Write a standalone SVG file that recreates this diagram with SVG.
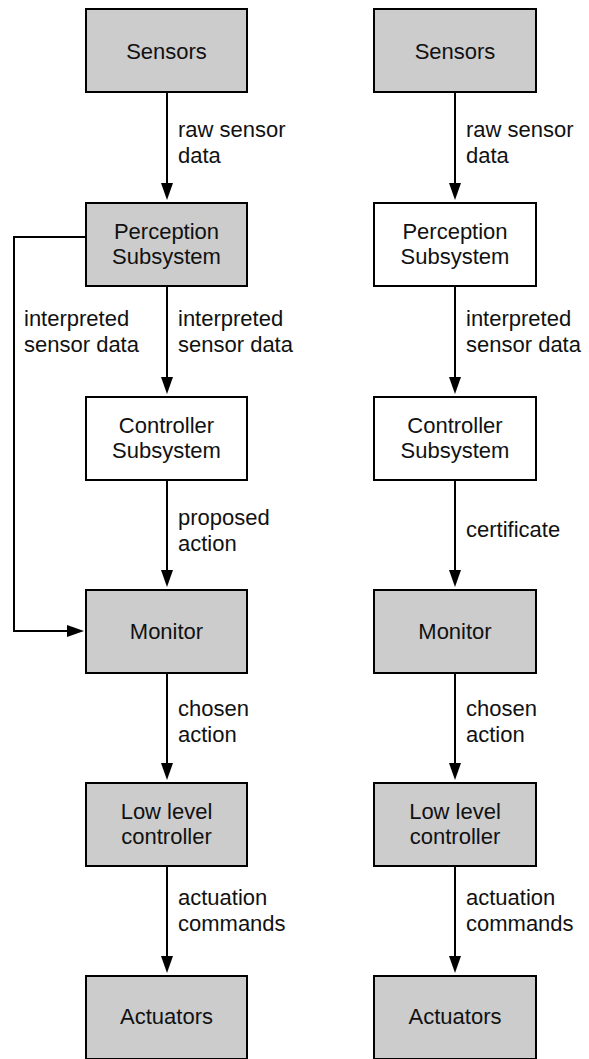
<svg xmlns="http://www.w3.org/2000/svg" width="589" height="1059" viewBox="0 0 589 1059">
  <style>
    .box { stroke: #000; stroke-width: 2; }
    .grey { fill: #cccccc; }
    .white { fill: #ffffff; }
    text { font-family: "Liberation Sans", Arial, Helvetica, sans-serif; font-size: 22px; fill: #111; }
    .mid { text-anchor: middle; }
    .edge { fill: none; stroke: #000; stroke-width: 2; marker-end: url(#arrow); }
  </style>
  <defs>
    <marker id="arrow" viewBox="0 0 17 12" refX="1" refY="6" markerWidth="17" markerHeight="12" markerUnits="userSpaceOnUse" orient="auto">
      <path d="M0,0 L17,6 L0,12 z" fill="#000"/>
    </marker>
  </defs>
  <rect width="589" height="1059" fill="#ffffff"/>

  <!-- left pipeline -->
  <g id="L-sensors">
    <rect class="box grey" x="86" y="9" width="161" height="83"/>
    <text class="mid" x="166.5" y="59">Sensors</text>
  </g>
  <g id="L-perception">
    <rect class="box grey" x="86" y="203" width="161" height="83"/>
    <text class="mid" x="166.5" y="239">Perception</text>
    <text class="mid" x="166.5" y="264">Subsystem</text>
  </g>
  <g id="L-controller">
    <rect class="box white" x="86" y="397" width="161" height="83"/>
    <text class="mid" x="166.5" y="433">Controller</text>
    <text class="mid" x="166.5" y="458">Subsystem</text>
  </g>
  <g id="L-monitor">
    <rect class="box grey" x="86" y="590" width="161" height="83"/>
    <text class="mid" x="166.5" y="639">Monitor</text>
  </g>
  <g id="L-lowlevel">
    <rect class="box grey" x="86" y="783" width="161" height="83"/>
    <text class="mid" x="166.5" y="819">Low level</text>
    <text class="mid" x="166.5" y="844">controller</text>
  </g>
  <g id="L-actuators">
    <rect class="box grey" x="86" y="976" width="161" height="83"/>
    <text class="mid" x="166.5" y="1024">Actuators</text>
  </g>

  <!-- right pipeline -->
  <g id="R-sensors">
    <rect class="box grey" x="374" y="9" width="162" height="83"/>
    <text class="mid" x="455" y="59">Sensors</text>
  </g>
  <g id="R-perception">
    <rect class="box white" x="374" y="203" width="162" height="83"/>
    <text class="mid" x="455" y="239">Perception</text>
    <text class="mid" x="455" y="264">Subsystem</text>
  </g>
  <g id="R-controller">
    <rect class="box white" x="374" y="397" width="162" height="83"/>
    <text class="mid" x="455" y="433">Controller</text>
    <text class="mid" x="455" y="458">Subsystem</text>
  </g>
  <g id="R-monitor">
    <rect class="box grey" x="374" y="590" width="162" height="83"/>
    <text class="mid" x="455" y="639">Monitor</text>
  </g>
  <g id="R-lowlevel">
    <rect class="box grey" x="374" y="783" width="162" height="83"/>
    <text class="mid" x="455" y="819">Low level</text>
    <text class="mid" x="455" y="844">controller</text>
  </g>
  <g id="R-actuators">
    <rect class="box grey" x="374" y="976" width="162" height="83"/>
    <text class="mid" x="455" y="1024">Actuators</text>
  </g>

  <!-- connectors -->
  <g id="connectors">
    <path class="edge" d="M167,92 V184"/>
    <path class="edge" d="M167,286 V378"/>
    <path class="edge" d="M167,480 V571"/>
    <path class="edge" d="M167,673 V764"/>
    <path class="edge" d="M167,866 V957"/>
    <path class="edge" d="M86,237 H14 V631 H68"/>

    <path class="edge" d="M455,92 V184"/>
    <path class="edge" d="M455,286 V378"/>
    <path class="edge" d="M455,480 V571"/>
    <path class="edge" d="M455,673 V764"/>
    <path class="edge" d="M455,866 V957"/>

    <text x="178" y="137">raw sensor</text>
    <text x="178" y="163">data</text>
    <text x="24" y="326">interpreted</text>
    <text x="24" y="352">sensor data</text>
    <text x="178" y="326">interpreted</text>
    <text x="178" y="352">sensor data</text>
    <text x="178" y="525">proposed</text>
    <text x="178" y="551">action</text>
    <text x="178" y="716">chosen</text>
    <text x="178" y="742">action</text>
    <text x="178" y="905">actuation</text>
    <text x="178" y="931">commands</text>

    <text x="466" y="137">raw sensor</text>
    <text x="466" y="163">data</text>
    <text x="466" y="326">interpreted</text>
    <text x="466" y="352">sensor data</text>
    <text x="466" y="537">certificate</text>
    <text x="466" y="716">chosen</text>
    <text x="466" y="742">action</text>
    <text x="466" y="905">actuation</text>
    <text x="466" y="931">commands</text>
  </g>
</svg>
